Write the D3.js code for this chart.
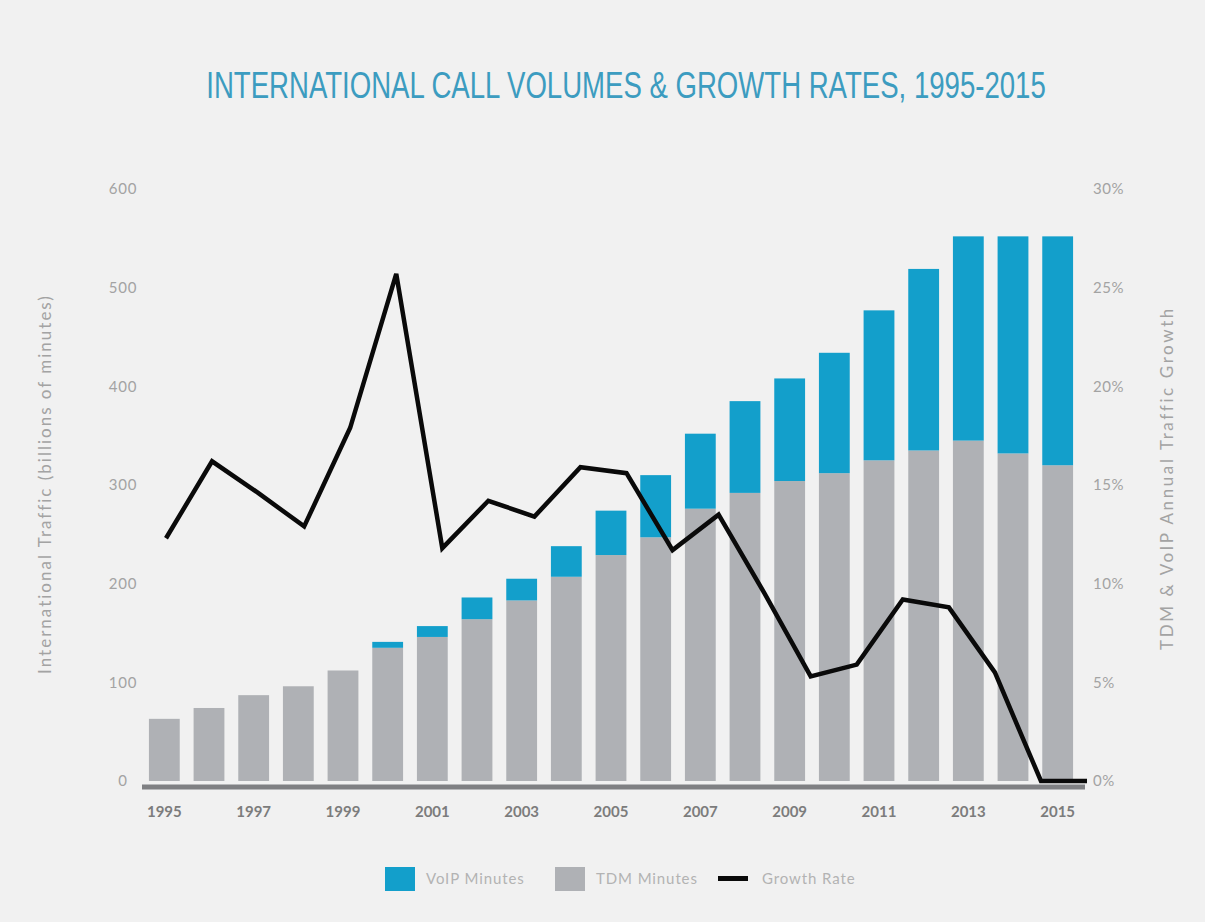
<!DOCTYPE html>
<html>
<head>
<meta charset="utf-8">
<script src="https://cdn.jsdelivr.net/npm/d3@7"></script>
<style>
  html, body { margin: 0; padding: 0; background: #f1f1f1; }
  svg { display: block; }
  .tick text { font-family: Lato, "Open Sans", sans-serif; }
</style>
</head>
<body>
<svg id="chart" width="1205" height="922"></svg>
<script>
// International traffic, billions of minutes
const years = d3.range(1995, 2016);
const tdmMinutes  = [63, 74, 87, 96, 112, 135, 146, 164, 183, 207, 229, 247, 276, 292, 304, 312, 325, 335, 345, 332, 320];
const totalMinutes = [63, 74, 87, 96, 112, 141, 157, 186, 205, 238, 274, 310, 352, 385, 408, 434, 477, 519, 552, 552, 552];
// Annual growth of TDM + VoIP traffic, percent
const growthRate = [12.3, 16.2, 14.6, 12.9, 17.9, 25.7, 11.8, 14.2, 13.4, 15.9, 15.6, 11.7, 13.5, 9.5, 5.3, 5.9, 9.2, 8.8, 5.5, 0, 0];
const leftTicks  = [0, 100, 200, 300, 400, 500, 600];
const rightTicks = [0, 5, 10, 15, 20, 25, 30];
const yearTicks  = [1995, 1997, 1999, 2001, 2003, 2005, 2007, 2009, 2011, 2013, 2015];

const BLUE = "#139fcb", GRAY = "#afb1b5", TEXT = "#a3a3a3";

const svg = d3.select("#chart");

const x = d3.scaleBand().domain(years).range([142, 1080]).paddingInner(0.31).paddingOuter(0.155);
const xLine = d3.scalePoint().domain(years).range([166, 1087]);
const y = d3.scaleLinear().domain([0, 600]).range([781, 189]);
const yR = d3.scaleLinear().domain([0, 30]).range([781, 189]);

// Title, condensed horizontally to a fixed width
const title = svg.append("text")
  .attr("text-anchor", "middle")
  .style("font-family", "'Liberation Sans', Arial, sans-serif")
  .style("font-size", "36px")
  .style("fill", "#3c9cc0")
  .text("INTERNATIONAL CALL VOLUMES & GROWTH RATES, 1995-2015");
const titleW = title.node().getComputedTextLength();
title.attr("transform", `translate(626,98) scale(${840 / titleW},1)`);

// Stacked bars: TDM at the bottom, VoIP on top
const bars = svg.append("g");
bars.selectAll("rect.tdm").data(years).join("rect")
  .attr("class", "tdm")
  .attr("x", d => x(d)).attr("width", x.bandwidth())
  .attr("y", (d, i) => y(tdmMinutes[i]))
  .attr("height", (d, i) => y(0) - y(tdmMinutes[i]))
  .attr("fill", GRAY);
bars.selectAll("rect.voip").data(years).join("rect")
  .attr("class", "voip")
  .attr("x", d => x(d)).attr("width", x.bandwidth())
  .attr("y", (d, i) => y(totalMinutes[i]))
  .attr("height", (d, i) => y(tdmMinutes[i]) - y(totalMinutes[i]))
  .attr("fill", BLUE);

// Baseline
svg.append("line")
  .attr("x1", 142).attr("x2", 1085)
  .attr("y1", 787).attr("y2", 787)
  .attr("stroke", "#7f8083").attr("stroke-width", 5);

// Growth rate line
const line = d3.line()
  .x((d, i) => xLine(years[i]))
  .y(d => yR(d));
svg.append("path")
  .datum(growthRate)
  .attr("d", line)
  .attr("fill", "none")
  .attr("stroke", "#0a0a0a")
  .attr("stroke-width", 4.5)
  .attr("stroke-linejoin", "miter");

// Left axis
const gL = svg.append("g").attr("transform", "translate(123,0)")
  .call(d3.axisLeft(y).tickValues(leftTicks).tickSize(0).tickPadding(0));
gL.select(".domain").remove();
gL.selectAll("text").attr("text-anchor", "middle")
  .style("font-size", "15px").style("letter-spacing", "0.8px").style("fill", TEXT);

// Right axis
const gR = svg.append("g").attr("transform", "translate(1093,0)")
  .call(d3.axisRight(yR).tickValues(rightTicks).tickSize(0).tickPadding(0).tickFormat(d => d + "%"));
gR.select(".domain").remove();
gR.selectAll("text").style("font-size", "15px").style("letter-spacing", "0.5px").style("fill", TEXT);

// Bottom axis
const gB = svg.append("g").attr("transform", "translate(0,800)")
  .call(d3.axisBottom(x).tickValues(yearTicks).tickSize(0).tickPadding(6));
gB.select(".domain").remove();
gB.selectAll("text").style("font-size", "15px").style("font-weight", "bold").style("fill", "#7c7c7c");

// Axis titles
svg.append("text")
  .attr("transform", "translate(51,484) rotate(-90)")
  .attr("text-anchor", "middle")
  .style("font-family", "Lato, 'Open Sans', sans-serif")
  .style("font-size", "17px").style("letter-spacing", "2px").style("fill", TEXT)
  .text("International Traffic (billions of minutes)");
svg.append("text")
  .attr("transform", "translate(1173,478) rotate(-90)")
  .attr("text-anchor", "middle")
  .style("font-family", "Lato, 'Open Sans', sans-serif")
  .style("font-size", "17px").style("letter-spacing", "2.6px").style("fill", TEXT)
  .text("TDM & VoIP Annual Traffic Growth");

// Legend
const legendItems = [
  { label: "VoIP Minutes", color: BLUE, kind: "box", x: 385 },
  { label: "TDM Minutes", color: GRAY, kind: "box", x: 555 },
  { label: "Growth Rate", color: "#0a0a0a", kind: "line", x: 718 }
];
const lg = svg.append("g").attr("transform", "translate(0,879)");
legendItems.forEach(it => {
  if (it.kind === "box") {
    lg.append("rect").attr("x", it.x).attr("y", -12).attr("width", 30).attr("height", 24).attr("fill", it.color);
  } else {
    lg.append("rect").attr("x", it.x).attr("y", -3).attr("width", 30).attr("height", 5).attr("fill", it.color);
  }
  lg.append("text")
    .attr("x", it.x + (it.kind === "box" ? 41 : 44)).attr("y", 0)
    .attr("dy", "0.35em")
    .style("font-family", "Lato, 'Open Sans', sans-serif")
    .style("font-size", "15px").style("letter-spacing", "0.9px").style("fill", "#b3b3b3")
    .text(it.label);
});
</script>
</body>
</html>
